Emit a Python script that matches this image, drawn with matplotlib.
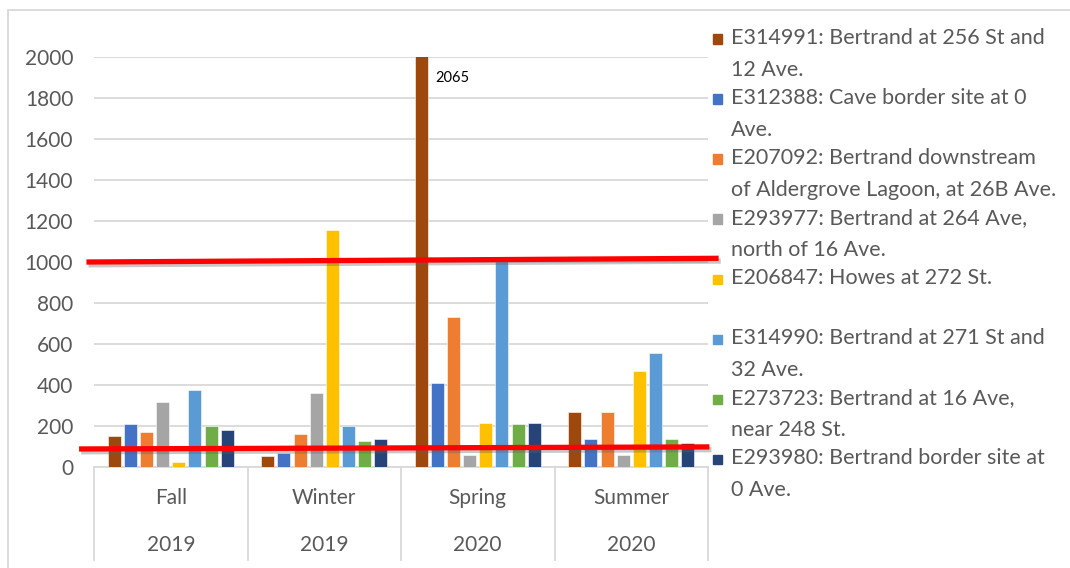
import matplotlib
matplotlib.use("Agg")
import matplotlib.pyplot as plt
import matplotlib.patheffects as pe
from matplotlib.transforms import blended_transform_factory
from matplotlib.lines import Line2D
from matplotlib.patches import Rectangle

# ---------------- data ----------------
seasons = ["Fall", "Winter", "Spring", "Summer"]
years = ["2019", "2019", "2020", "2020"]

series_labels = [
    "E314991: Bertrand at 256 St and\n12 Ave.",
    "E312388: Cave border site at 0\nAve.",
    "E207092: Bertrand downstream\nof Aldergrove Lagoon, at 26B Ave.",
    "E293977: Bertrand at 264 Ave,\nnorth of 16 Ave.",
    "E206847: Howes at 272 St.",
    "E314990: Bertrand at 271 St and\n32 Ave.",
    "E273723: Bertrand at 16 Ave,\nnear 248 St.",
    "E293980: Bertrand border site at\n0 Ave.",
]
E314991 = [150, 55, 2065, 270]
E312388 = [210, 70, 410, 135]
E207092 = [170, 160, 730, 270]
E293977 = [315, 360, 60, 60]
E206847 = [25, 1155, 215, 470]
E314990 = [375, 200, 1005, 555]
E273723 = [200, 125, 210, 135]
E293980 = [180, 135, 215, 115]
series_values = [E314991, E312388, E207092, E293977,
                 E206847, E314990, E273723, E293980]
colors = ["#9E480E", "#4472C4", "#ED7D31", "#A5A5A5",
          "#FFC000", "#5B9BD5", "#70AD47", "#264478"]

y_ticks = [0, 200, 400, 600, 800, 1000, 1200, 1400, 1600, 1800, 2000]
y_max = 2000
# hand-drawn red reference lines: (value at left end, value at right end)
red_lines = [(1000, 1018), (88, 98)]
callout_series, callout_group = 0, 2   # "2065" label

# ---------------- figure ----------------
W, H = 1070, 568
fig = plt.figure(figsize=(W / 100, H / 100), dpi=100)
FONT = ["Lato", "DejaVu Sans"]
GREY_TXT = "#595959"
GRID = "#D9D9D9"

# outer chart border (top & left visible)
fig.patches.append(Rectangle((8 / W, -0.1), 1.2, (H - 10) / H + 0.1,
                             transform=fig.transFigure, fill=False,
                             edgecolor=GRID, lw=1.3))

ax = fig.add_axes([94 / W, (H - 467) / H, 614 / W, 410 / H])

n = len(series_values)
pitch = 0.105
bw = 0.085
xs = list(range(len(seasons)))
for i, (vals, c) in enumerate(zip(series_values, colors)):
    off = (i - (n - 1) / 2) * pitch
    ax.bar([x + off for x in xs], vals, width=bw, color=c,
           edgecolor="white", linewidth=0.4, zorder=3)

ax.set_xlim(-0.5, len(seasons) - 0.5)
ax.set_ylim(0, y_max)
ax.set_yticks(y_ticks)
ax.set_yticklabels([str(t) for t in y_ticks], fontsize=15, color=GREY_TXT,
                   family=FONT)
ax.tick_params(axis="y", length=0, pad=15)
ax.set_xticks([])
ax.grid(axis="y", color=GRID, lw=1.3, zorder=0)
ax.set_axisbelow(True)
for s in ["top", "right", "left"]:
    ax.spines[s].set_visible(False)
ax.spines["bottom"].set_color(GRID)
ax.spines["bottom"].set_linewidth(1.3)

# two-level category axis
tr = blended_transform_factory(ax.transData, fig.transFigure)
for b in [x - 0.5 for x in xs] + [xs[-1] + 0.5]:
    ax.add_line(Line2D([b, b], [(H - 467) / H, (H - 560) / H], transform=tr,
                       color=GRID, lw=1.3, clip_on=False))
for x, s, y in zip(xs, seasons, years):
    ax.text(x, (H - 498) / H, s, transform=tr, ha="center", va="center",
            fontsize=15, color=GREY_TXT, family=FONT)
    ax.text(x, (H - 545) / H, y, transform=tr, ha="center", va="center",
            fontsize=15, color=GREY_TXT, family=FONT)

# value callout
cx = callout_group + (callout_series - (n - 1) / 2) * pitch + bw / 2
ax.annotate(str(series_values[callout_series][callout_group]),
            xy=(cx, min(series_values[callout_series][callout_group], y_max)),
            xytext=(7, -21), textcoords="offset pixels", ha="left",
            va="center", fontsize=10.5, color="black", family=FONT,
            annotation_clip=False, zorder=6)

# red reference lines
trx = blended_transform_factory(ax.transAxes, ax.transData)
shadow = [pe.SimpleLineShadow(offset=(1.5, -2), shadow_color="#606060",
                              alpha=0.35), pe.Normal()]
ends = [(-0.008, 1.013), (-0.02, 0.998)]
for (y0, y1), (x0, x1) in zip(red_lines, ends):
    ax.add_line(Line2D([x0, x1], [y0, y1], transform=trx, color="#FF0000",
                       lw=3.8, clip_on=False, zorder=5,
                       path_effects=shadow))

# legend (manual, Excel style)
for i, (lab, c) in enumerate(zip(series_labels, colors)):
    yc = 39 + 60 * i
    fig.patches.append(Rectangle((713 / W, (H - yc - 4.5) / H), 9 / W, 9 / H,
                                 transform=fig.transFigure, color=c))
    fig.text(731 / W, (H - yc + 11) / H, lab, ha="left", va="top",
             fontsize=15.5, color=GREY_TXT, family=FONT,
             linespacing=1.75, transform=fig.transFigure)

fig.savefig("out.png", dpi=100)
